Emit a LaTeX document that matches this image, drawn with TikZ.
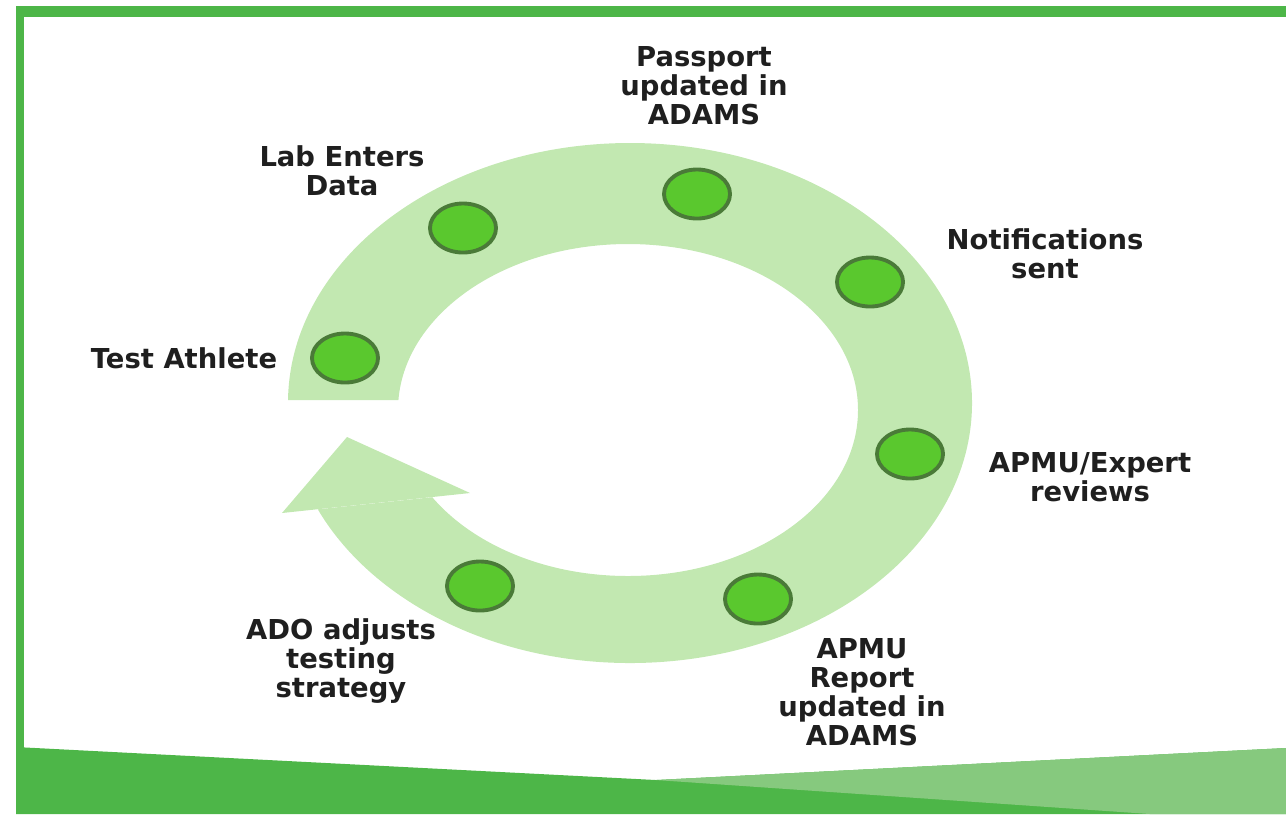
\documentclass[tikz,border=0pt]{standalone}
\usepackage{fontspec}
\setmainfont{DejaVu Sans}
\definecolor{bandgreen}{RGB}{77,182,72}
\definecolor{bandlight}{RGB}{134,201,126}
\definecolor{ringgreen}{RGB}{194,232,177}
\definecolor{dotgreen}{RGB}{90,200,46}
\definecolor{dotedge}{RGB}{74,122,56}
\usetikzlibrary{shapes.geometric}

\begin{document}
\begin{tikzpicture}[
  x=0.01cm, y=-0.01cm,
  every node/.style={font=\fontsize{7.8}{8.25}\selectfont\bfseries},
  stepdot/.style={ellipse,draw=dotedge,fill=dotgreen,line width=1.1pt,
                  minimum width=0.66cm,minimum height=0.49cm,inner sep=0pt},
  steplabel/.style={align=center,inner sep=0pt,text=black!88},
]
  \useasboundingbox (0,0) rectangle (1286,814);

  % Frame and bottom band
  \fill[bandgreen] (16,6) rectangle (1286,17);
  \fill[bandgreen] (16,6) rectangle (24,814);
  \fill[bandgreen] (16,747) -- (656,780) -- (1286,748) -- (1286,814) -- (16,814) -- cycle;
  \fill[bandlight] (656,780) -- (1286,748) -- (1286,814) -- (1150,814) -- cycle;

  % Ring, open on the left
  \begin{scope}
    \clip (0,0) -- (1286,0) -- (1286,814) -- (0,814) -- (0,543) -- (500,490)
      -- (500,400) -- (0,400) -- cycle;
    \fill[ringgreen,even odd rule] (630,403) ellipse [x radius=342, y radius=260]
                                   (628,410) ellipse [x radius=230, y radius=166];
  \end{scope}
  % Arrow head
  \fill[ringgreen] (347,437) -- (282,513) -- (470,493) -- cycle;

  % Steps
  \node[stepdot] (athlete) at (345,358) {};
  \node[stepdot] (lab) at (463,228) {};
  \node[stepdot] (passport) at (697,194) {};
  \node[stepdot] (notify) at (870,282) {};
  \node[stepdot] (expert) at (910,454) {};
  \node[stepdot] (report) at (758,599) {};
  \node[stepdot] (adjust) at (480,586) {};

  % Labels
  \node[steplabel] (athlete-txt) at (184,358) {Test Athlete};
  \node[steplabel] (lab-txt) at (342,171) {Lab Enters\\Data};
  \node[steplabel] (passport-txt) at (704,86) {Passport\\updated in\\ADAMS};
  \node[steplabel] (notify-txt) at (1045,254) {Notifications\\sent};
  \node[steplabel] (expert-txt) at (1090,477) {APMU/Expert\\reviews};
  \node[steplabel] (report-txt) at (862,692) {APMU\\Report\\updated in\\ADAMS};
  \node[steplabel] (adjust-txt) at (341,661) {ADO adjusts\\testing\\strategy};
\end{tikzpicture}
\end{document}
